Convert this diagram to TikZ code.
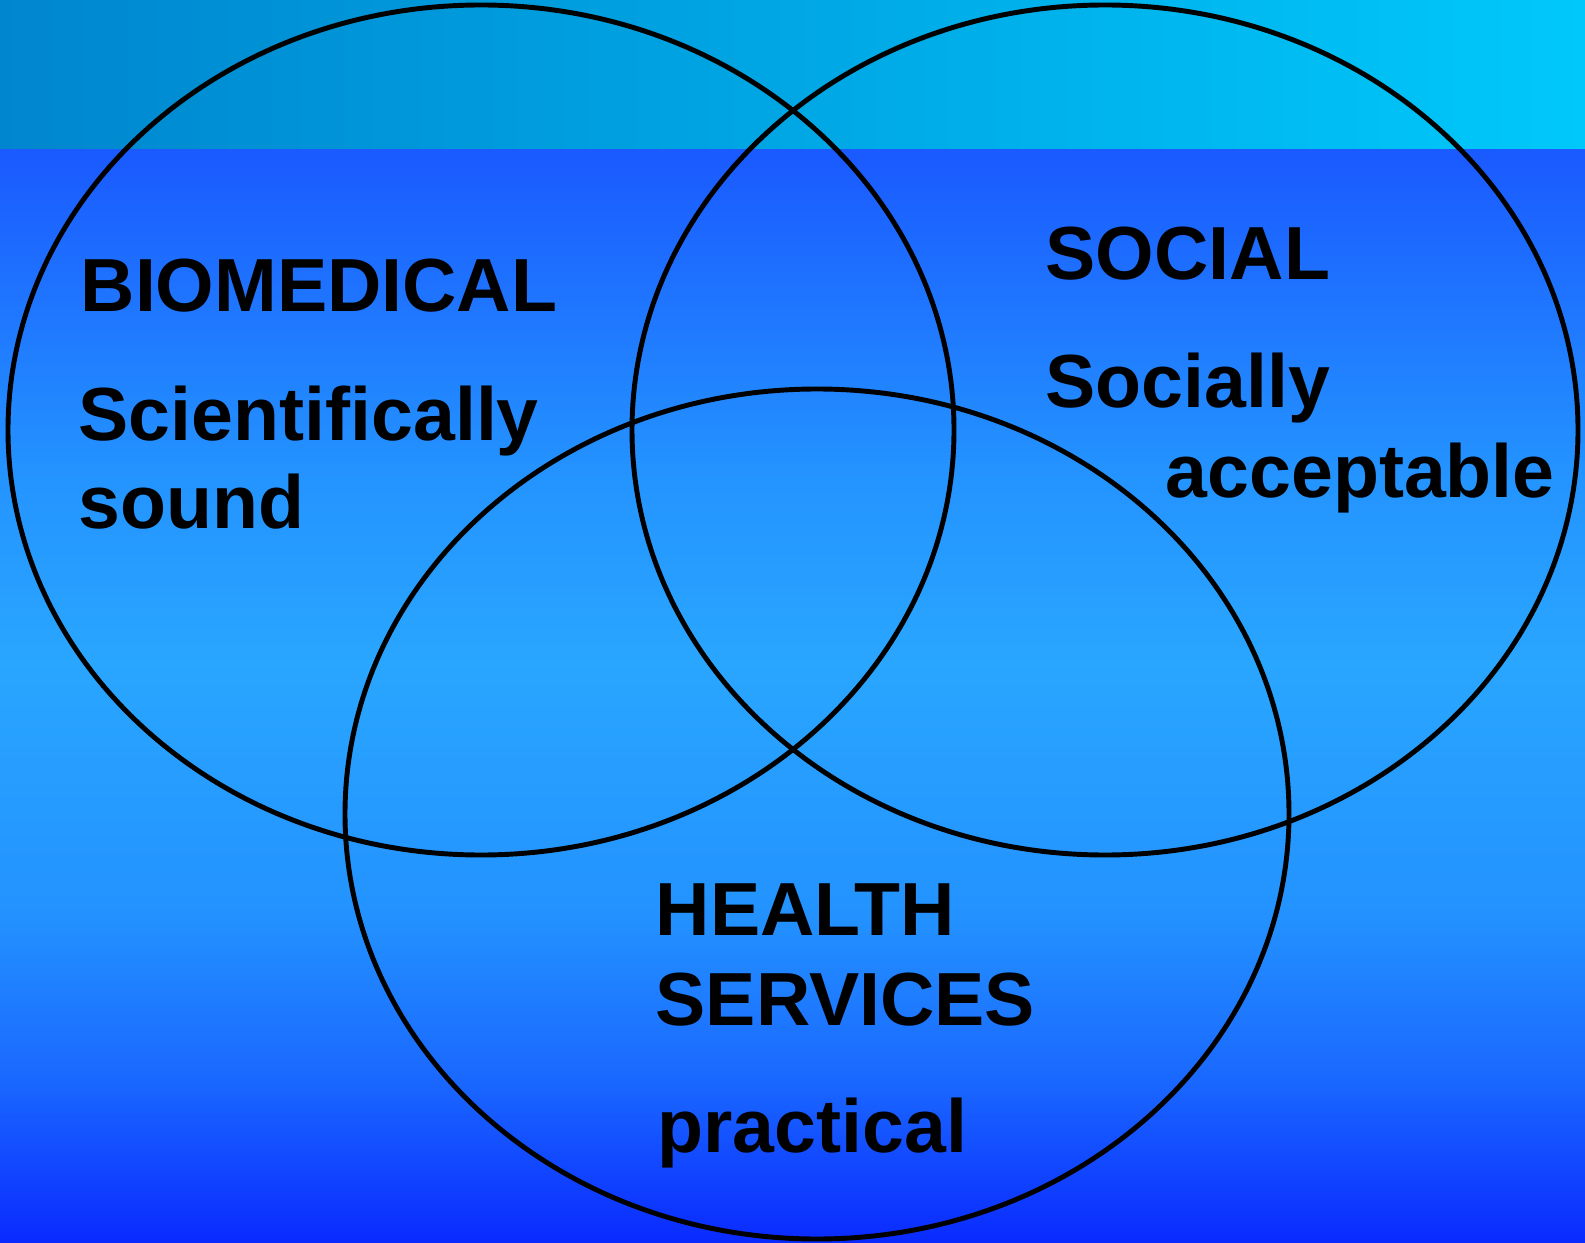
\documentclass[tikz,border=0pt]{standalone}
\usepackage{fontspec}
\setmainfont{Liberation Sans}
\usetikzlibrary{positioning}
\definecolor{bandleft}{HTML}{0086CE}
\definecolor{bandright}{HTML}{00C8FA}
\definecolor{seatop}{HTML}{1A5AFF}
\definecolor{seaup}{HTML}{2494FF}
\definecolor{seamid}{HTML}{29A6FF}
\definecolor{sealow}{HTML}{2392FF}
\definecolor{seadeep}{HTML}{1A68FF}
\definecolor{seabot}{HTML}{0A2AFF}
\pgfdeclareverticalshading{sea}{100bp}{color(0bp)=(seabot); color(25bp)=(seabot);
	color(32.5bp)=(seadeep); color(40bp)=(sealow); color(51.5bp)=(seamid);
	color(60bp)=(seaup); color(75bp)=(seatop); color(100bp)=(seatop)}

\begin{document}
\begin{tikzpicture}[x=0.01cm,y=-0.01cm,
	set/.style={line width=1.4pt},
	lab/.style={inner sep=0,anchor=base west,font=\fontsize{21.4}{26}\selectfont\bfseries}]
					\useasboundingbox (0,0) rectangle (1585,1243);
					%BACKGROUND
					\fill[left color=bandleft,right color=bandright] (0,0) rectangle (1585,150);
					\shade[shading=sea] (0,150) rectangle (1585,1243);
					%SETS
					\draw[set] (481,430) ellipse [x radius=473,y radius=425];
					\draw[set] (1105,430) ellipse [x radius=473,y radius=425];
					\draw[set] (817,814) ellipse [x radius=472,y radius=425];
					%LABELS
					\node[lab] (bio) at (80,312) {BIOMEDICAL};
					\node[lab] (sci) at (78,440) {Scientifically};
					\node[lab] (sound) at (78,528) {sound};
					\node[lab] (soc) at (1045,280) {SOCIAL};
					\node[lab] (socially) at (1045,407) {Socially};
					\node[lab] (accept) at (1165,497) {acceptable};
					\node[lab] (health) at (655,935) {HEALTH};
					\node[lab] (serv) at (655,1025) {SERVICES};
					\node[lab] (pract) at (657,1152) {practical};
	  \end{tikzpicture}
\end{document}
